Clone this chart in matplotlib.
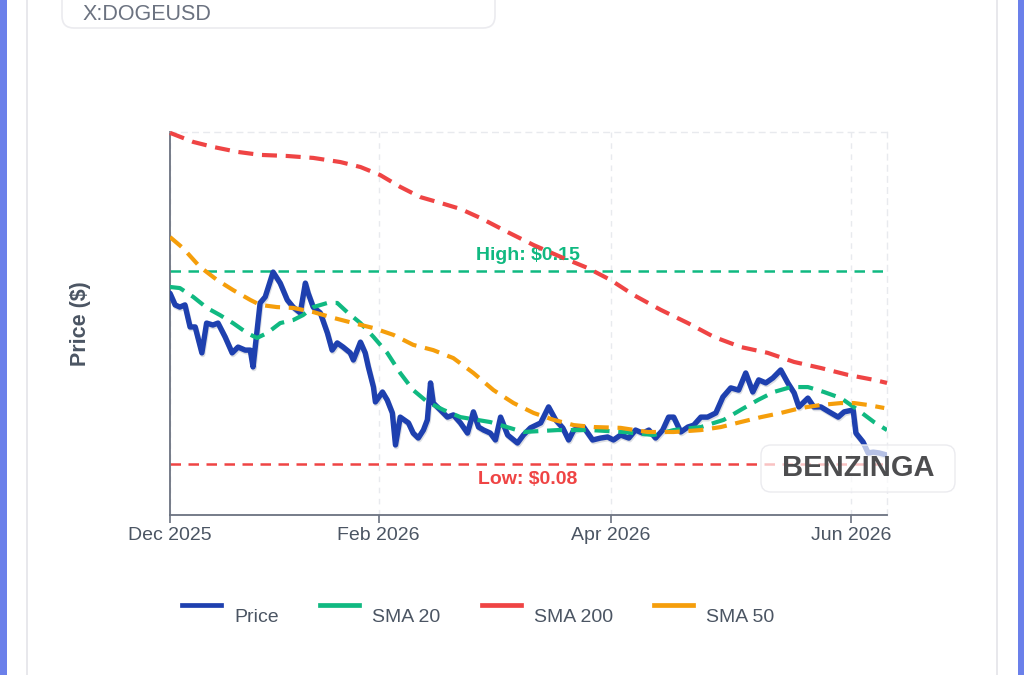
import matplotlib
matplotlib.use("Agg")
import matplotlib.pyplot as plt
import matplotlib.patheffects as pe
from matplotlib.patches import FancyBboxPatch, Rectangle
from matplotlib.lines import Line2D
from matplotlib.transforms import IdentityTransform

plt.rcParams['font.family'] = ['Liberation Sans', 'DejaVu Sans']

# ---------------- data ----------------
ticker = "X:DOGEUSD"
tick_days = [0, 53, 112, 173]
tick_labels = ["Dec 2025", "Feb 2026", "Apr 2026", "Jun 2026"]
high_level = 0.15
low_level = 0.08

price_days = [0, 1.3, 2.5, 3.8, 5.1, 6.4, 8.1, 9.3, 10.9, 12.2, 14.0, 15.8, 17.3, 19.1, 20.4,
              21.1, 22.9, 24.2, 26.2, 28.0, 29.8, 31.3, 33.1, 34.4, 35.1, 36.4, 38.2, 40.0,
              41.2, 42.5, 44.0, 45.8, 46.6, 48.4, 49.6, 50.4, 51.7, 52.2, 54.0, 55.2, 56.5,
              57.3, 58.5, 60.6, 61.8, 63.1, 64.4, 65.4, 66.2, 66.9, 68.7, 70.5, 72.0, 73.8,
              75.6, 77.1, 78.4, 79.7, 81.4, 82.7, 84.0, 85.8, 88.3, 89.8, 91.6, 94.2, 96.2,
              98.0, 99.8, 101.3, 102.6, 105.1, 107.4, 109.4, 111.2, 112.7, 114.5, 116.6, 118.3,
              120.1, 121.7, 123.4, 125.2, 126.7, 128.0, 129.8, 131.6, 133.1, 134.9, 136.6,
              138.7, 140.5, 142.5, 144.5, 146.3, 148.1, 149.6, 151.4, 153.2, 155.2, 157.0,
              158.6, 159.8, 162.1, 163.6, 165.4, 167.5, 169.8, 171.3, 173.6, 174.3, 176.1,
              177.4, 178.7, 180.2, 182.0]
price_vals = [0.1419, 0.1377, 0.1369, 0.1377, 0.1297, 0.1297, 0.1203, 0.1311, 0.1304, 0.1311,
              0.1261, 0.1203, 0.1224, 0.1213, 0.1213, 0.1152, 0.1384, 0.1406, 0.1496, 0.1456,
              0.1395, 0.1369, 0.1348, 0.1456, 0.1420, 0.1369, 0.1348, 0.1275, 0.1213, 0.1239,
              0.1224, 0.1203, 0.1177, 0.1242, 0.1203, 0.1152, 0.1079, 0.1025, 0.1061, 0.1032,
              0.0985, 0.0869, 0.0970, 0.0949, 0.0912, 0.0894, 0.0923, 0.0960, 0.1094, 0.1021,
              0.0996, 0.0970, 0.0978, 0.0949, 0.0912, 0.0989, 0.0934, 0.0923, 0.0912, 0.0887,
              0.0970, 0.0905, 0.0876, 0.0905, 0.0931, 0.0949, 0.1007, 0.0960, 0.0931, 0.0887,
              0.0923, 0.0934, 0.0887, 0.0894, 0.0898, 0.0887, 0.0905, 0.0894, 0.0923, 0.0912,
              0.0923, 0.0894, 0.0923, 0.0970, 0.0970, 0.0916, 0.0934, 0.0941, 0.0970, 0.0970,
              0.0985, 0.1043, 0.1076, 0.1068, 0.1130, 0.1061, 0.1105, 0.1094, 0.1112, 0.1141,
              0.1094, 0.1058, 0.1007, 0.1039, 0.1007, 0.1007, 0.0989, 0.0970, 0.0989, 0.0996,
              0.0912, 0.0880, 0.0840, 0.0843, 0.0840, 0.0833]

sma20_days = [0, 2.5, 5.9, 9.4, 12.7, 16.0, 19.6, 22.1, 24.7, 28.0, 31.3, 33.8, 36.4, 40.0,
              42.5, 45.0, 48.4, 51.7, 55.2, 58.5, 61.8, 65.4, 69.5, 73.8, 81.4, 89.8, 98.5,
              106.9, 115.3, 122.9, 128.0, 134.9, 140.7, 145.0, 149.4, 153.4, 157.8, 162.1,
              166.2, 170.5, 174.8, 178.9, 182.2]
sma20_vals = [0.1442, 0.1438, 0.1406, 0.1366, 0.1340, 0.1311, 0.1275, 0.1257, 0.1275, 0.1311,
              0.1322, 0.1340, 0.1369, 0.1384, 0.1384, 0.1351, 0.1311, 0.1261, 0.1203, 0.1130,
              0.1068, 0.1025, 0.0996, 0.0970, 0.0952, 0.0916, 0.0923, 0.0923, 0.0916, 0.0905,
              0.0923, 0.0934, 0.0960, 0.0996, 0.1032, 0.1061, 0.1079, 0.1079, 0.1061, 0.1039,
              0.0996, 0.0952, 0.0923]

sma50_days = [0, 3.3, 7.6, 12.0, 16.0, 20.4, 22.9, 27.2, 31.3, 36.4, 41.5, 46.6, 51.7, 56.8,
              61.8, 66.9, 72.0, 77.1, 82.2, 87.3, 92.4, 97.5, 102.6, 107.7, 114.5, 121.4,
              128.0, 134.9, 140.0, 145.0, 150.2, 155.2, 160.3, 165.4, 170.5, 173.8, 177.4,
              181.5]
sma50_vals = [0.1623, 0.1583, 0.1515, 0.1467, 0.1431, 0.1395, 0.1377, 0.1369, 0.1366, 0.1351,
              0.1330, 0.1311, 0.1293, 0.1268, 0.1232, 0.1213, 0.1184, 0.1130, 0.1068, 0.1021,
              0.0985, 0.0960, 0.0941, 0.0934, 0.0931, 0.0916, 0.0916, 0.0923, 0.0934, 0.0952,
              0.0970, 0.0985, 0.1003, 0.1014, 0.1021, 0.1021, 0.1014, 0.1003]

sma200_days = [0, 5.9, 10.9, 17.1, 22.9, 29.8, 36.4, 43.3, 48.4, 53.4, 58.5, 63.6, 68.7,
               73.8, 78.9, 85.8, 92.4, 99.3, 106.1, 112.0, 117.8, 124.7, 131.6, 138.2,
               145.1, 151.9, 158.6, 165.4, 172.3, 178.9, 182.2]
sma200_vals = [0.2001, 0.1968, 0.1950, 0.1932, 0.1921, 0.1917, 0.1910, 0.1895, 0.1877, 0.1848,
               0.1805, 0.1768, 0.1747, 0.1725, 0.1692, 0.1641, 0.1594, 0.1551, 0.1511, 0.1467,
               0.1413, 0.1359, 0.1311, 0.1261, 0.1224, 0.1203, 0.1170, 0.1148, 0.1123, 0.1105,
               0.1094]

# ---------------- style ----------------
C_PRICE = '#1e40af'
C_SMA20 = '#10b981'
C_SMA200 = '#ef4444'
C_SMA50 = '#f59e0b'
C_AXIS = '#6b7280'
C_TEXT = '#4b5563'
C_GRID = '#e8eaee'
C_BLUE = '#6b80ea'

W, H = 1024, 675
fig = plt.figure(figsize=(W / 100, H / 100), dpi=100)
fig.patch.set_facecolor('white')
ID = IdentityTransform()


def ypx(y_img):
    return H - y_img


# page frame
fig.add_artist(Rectangle((0, 0), 6.5, H, transform=ID, fc=C_BLUE, ec='none', zorder=-5))
fig.add_artist(Rectangle((1017.5, 0), 7, H, transform=ID, fc=C_BLUE, ec='none', zorder=-5))
fig.add_artist(Rectangle((26, 0), 2, H, transform=ID, fc='#e8e8ec', ec='none', zorder=-5))
fig.add_artist(Rectangle((996, 0), 2, H, transform=ID, fc='#e8e8ec', ec='none', zorder=-5))

# ticker box at top
fig.add_artist(FancyBboxPatch((62, ypx(28)), 433, 60, boxstyle="round,pad=0,rounding_size=12",
                              transform=ID, fc='white', ec='#ebebef', lw=1.2, zorder=-4))
fig.text(83 / W, 1 - 15 / H, ticker, ha='left', va='center', fontsize=15.5, color=C_AXIS)

# axes
ax = fig.add_axes([170 / W, 1 - 515 / H, (887 - 170) / W, (515 - 132) / H])
ax.set_xlim(0, 182.2)
ax.set_ylim(0.0615, 0.2004)
ax.set_facecolor('none')

for s in ['left', 'bottom']:
    ax.spines[s].set_color(C_AXIS)
    ax.spines[s].set_linewidth(1.3)
for s in ['top', 'right']:
    ax.spines[s].set_color(C_GRID)
    ax.spines[s].set_linewidth(1.0)
    ax.spines[s].set_linestyle((0, (4, 4)))

ax.set_yticks([])
ax.set_xticks(tick_days)
ax.set_xticklabels(tick_labels)
ax.tick_params(axis='x', length=6, width=1.2, color=C_AXIS, labelsize=14,
               labelcolor=C_TEXT, pad=3)
ax.grid(axis='x', color=C_GRID, lw=1.0, linestyle=(0, (4, 4)))

ax.set_ylabel("Price ($)", fontsize=15.5, fontweight='bold', color=C_TEXT)
ax.yaxis.set_label_coords(-(170 - 91) / (887 - 170), 0.5)

# reference lines
ax.axhline(high_level, color=C_SMA20, lw=1.8, linestyle=(0, (4.2, 3.0)), zorder=2)
ax.axhline(low_level, color=C_SMA200, lw=1.8, linestyle=(0, (4.2, 3.0)), zorder=2)
ax.annotate(f"High: ${high_level:.2f}", xy=(91, high_level), xytext=(0, 5),
            textcoords='offset points', ha='center', va='bottom', fontsize=14,
            fontweight='bold', color=C_SMA20)
ax.annotate(f"Low: ${low_level:.2f}", xy=(91, low_level), xytext=(0, -5),
            textcoords='offset points', ha='center', va='top', fontsize=14,
            fontweight='bold', color=C_SMA200)

# series
shadow = [pe.SimpleLineShadow(offset=(0.6, -1.2), shadow_color='#9ca3af', alpha=0.35),
          pe.Normal()]
ax.plot(price_days, price_vals, color=C_PRICE, lw=3.9, solid_joinstyle='round',
        solid_capstyle='round', zorder=3, path_effects=shadow)
dash = (0, (3.6, 2.1))
ax.plot(sma20_days, sma20_vals, color=C_SMA20, lw=3.0, linestyle=dash, zorder=4)
ax.plot(sma200_days, sma200_vals, color=C_SMA200, lw=3.0, linestyle=dash, zorder=4,
        clip_on=False)
ax.plot(sma50_days, sma50_vals, color=C_SMA50, lw=3.0, linestyle=dash, zorder=4)

# legend (manual, plotly-like)
legend_items = [("Price", C_PRICE, 182), ("SMA 20", C_SMA20, 320),
                ("SMA 200", C_SMA200, 482), ("SMA 50", C_SMA50, 654)]
for label, col, x0 in legend_items:
    fig.add_artist(Line2D([x0, x0 + 39], [ypx(605), ypx(605)], transform=ID, color=col, lw=3.4))
    fig.text((x0 + 52) / W, 1 - 617 / H, label, ha='left', va='center', fontsize=14,
             color=C_TEXT)

# watermark
fig.add_artist(FancyBboxPatch((761, ypx(492)), 194, 47, boxstyle="round,pad=0,rounding_size=10",
                              transform=ID, fc=(1, 1, 1, 0.68), ec='#ebebef', lw=1.0, zorder=10))
fig.text(858 / W, 1 - 468 / H, "BENZINGA", ha='center', va='center', fontsize=21,
         fontweight='bold', color='#4d4d4f', zorder=11)

fig.savefig("out.png", dpi=100)
